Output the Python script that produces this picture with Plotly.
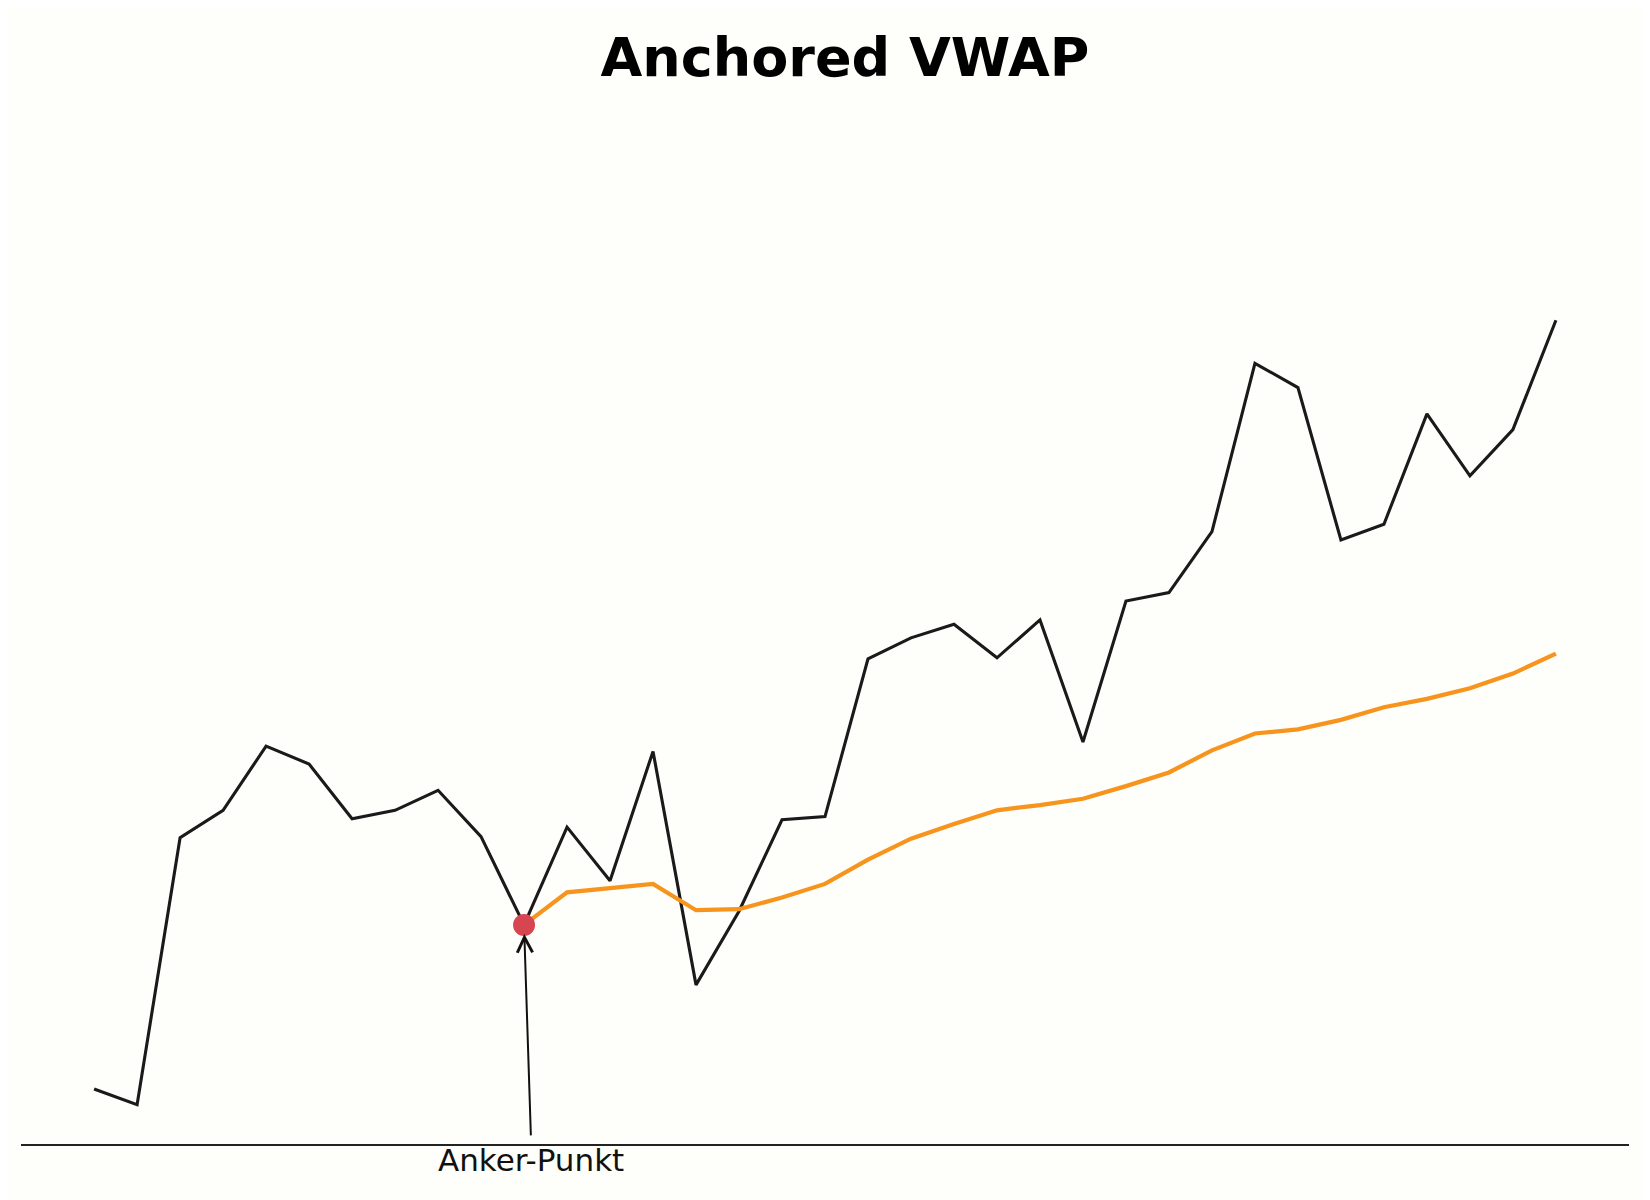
import plotly.graph_objects as go

# Price series (close) and anchored VWAP
days = list(range(35))
price = [95.6, 95.0, 105.16, 106.2, 108.64, 107.96, 105.88, 106.2, 106.96, 105.2,
         101.84, 105.56, 103.52, 108.44, 99.56, 102.36, 105.84, 105.96, 111.96, 112.76,
         113.28, 112.0, 113.44, 108.8, 114.16, 114.48, 116.8, 123.2, 122.28, 116.48,
         117.08, 121.28, 118.92, 120.68, 124.84]

anchor_idx = 10
vwap_days = days[anchor_idx:]
vwap = [101.84, 103.08, 103.24, 103.4, 102.4, 102.44, 102.88, 103.4, 104.32, 105.12,
        105.68, 106.2, 106.4, 106.64, 107.12, 107.64, 108.48, 109.12, 109.28, 109.64,
        110.12, 110.44, 110.84, 111.4, 112.16]

label_x = 10.16
label_y = 93.78

fig = go.Figure()

fig.add_trace(go.Scatter(
    x=days, y=price,
    mode='lines',
    line=dict(color='#1a1a1a', width=3.1),
    showlegend=False,
    hoverinfo='skip'
))

fig.add_trace(go.Scatter(
    x=vwap_days, y=vwap,
    mode='lines',
    line=dict(color='#F7941D', width=4.2),
    showlegend=False,
    hoverinfo='skip'
))

fig.add_trace(go.Scatter(
    x=[days[anchor_idx]], y=[price[anchor_idx]],
    mode='markers',
    marker=dict(size=22, color='#D64550', line=dict(width=0)),
    showlegend=False,
    hoverinfo='skip',
    cliponaxis=False
))

# arrow from below up to the anchor point
fig.add_annotation(
    x=days[anchor_idx], y=price[anchor_idx],
    ax=label_x, ay=label_y,
    xref='x', yref='y', axref='x', ayref='y',
    text='', showarrow=True,
    arrowhead=5, arrowsize=1.5, arrowwidth=2, arrowcolor='#111111',
    standoff=9
)
fig.add_annotation(
    x=label_x, y=-0.019,
    xref='x', yref='paper',
    text='Anker-Punkt', showarrow=False,
    yanchor='middle',
    font=dict(family='DejaVu Sans', size=31, color='#111111')
)

ymin, ymax = min(price), max(price)
pad = (ymax - ymin) * 0.05

# the page adds an 8px body margin, so the plot area is nudged up/left
fig.update_layout(
    width=1650, height=1200,
    title=dict(
        text='<b>Anchored VWAP</b>',
        x=0.5124, xref='paper', xanchor='center',
        y=0.959, yref='container', yanchor='middle',
        font=dict(family='DejaVu Sans', size=54, color='#000000')
    ),
    paper_bgcolor='#FEFEFA',
    plot_bgcolor='#FEFEFA',
    margin=dict(l=13, r=29, t=273, b=64),
    xaxis=dict(
        range=[-1.7, 35.7],
        showgrid=False, zeroline=False, showticklabels=False, ticks='',
        showline=True, linecolor='#222222', linewidth=1.5
    ),
    yaxis=dict(
        range=[ymin - pad, ymax + pad],
        showgrid=False, zeroline=False, showticklabels=False, ticks='',
        showline=False
    ),
)

fig.write_html("out.html")
